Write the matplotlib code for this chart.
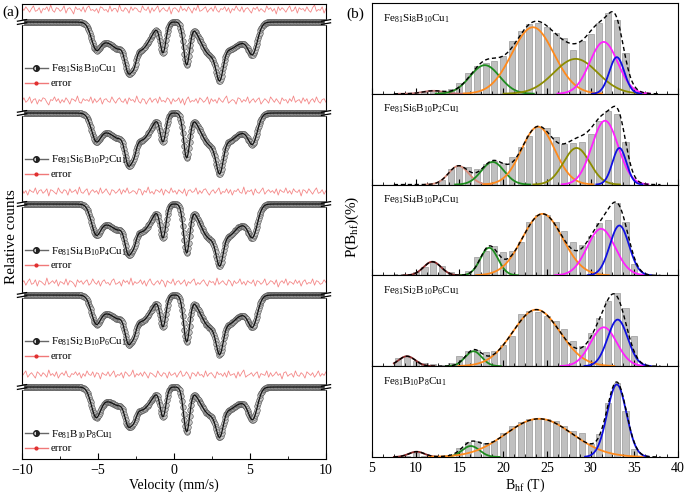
import numpy as np
import matplotlib.pyplot as plt
from matplotlib.lines import Line2D
from matplotlib.legend import Legend
from matplotlib.ticker import MultipleLocator

plt.rcParams['font.family'] = 'Liberation Serif'
plt.rcParams['mathtext.fontset'] = 'custom'
plt.rcParams['mathtext.rm'] = 'Liberation Serif'
plt.rcParams['mathtext.it'] = 'Liberation Serif:italic'
plt.rcParams['mathtext.default'] = 'regular'

# ---------------- data ----------------
samples = [r'Fe$_{81}$Si$_8$B$_{10}$Cu$_1$',
           r'Fe$_{81}$Si$_6$B$_{10}$P$_2$Cu$_1$',
           r'Fe$_{81}$Si$_4$B$_{10}$P$_4$Cu$_1$',
           r'Fe$_{81}$Si$_2$B$_{10}$P$_6$Cu$_1$',
           r'Fe$_{81}$B$_{10}$P$_8$Cu$_1$']

# (a) Mossbauer spectra: absorption lines (velocity, width, depth)
line_pos = [-5.15, -4.35, -3.6, -3.0, -2.62, -2.3, -1.6, -0.72, 0.83, 2.05, 2.65, 3.02, 3.6, 4.35, 5.2]
line_sig = [0.3, 0.6, 0.35, 0.24, 0.16, 0.5, 0.4, 0.19, 0.2, 0.5, 0.45, 0.24, 0.35, 0.6, 0.3]
depth_1 = [20, 19, 16, 36, 14, 26, 8, 30, 42, 20, 20, 36, 15, 20, 25]
depth_2 = [21, 18, 15, 38, 13, 25, 9, 28, 44, 19, 20, 38, 16, 19, 24]
depth_3 = [23, 19, 15, 36, 12, 25, 10, 33, 48, 22, 20, 38, 19, 20, 26]
depth_4 = [22, 17, 14, 35, 12, 24, 9, 31, 46, 20, 19, 37, 17, 19, 25]
depth_5 = [25, 13, 11, 28, 10, 21, 8, 29, 44, 17, 17, 31, 13, 15, 27]
depths = [depth_1, depth_2, depth_3, depth_4, depth_5]
spec_offset = [437, 346, 255, 164, 72]

# residuals (fit - data), arbitrary units
err_1 = [2, -1, 3, 0, -3, 1, 4, -2, -1, 2, -4, 1, 0, 3, -2, 5, -1, -3, 2, 1, -2, 0, 4, -4, 1, 2, -1, -5, 3, 0,
         1, -2, 3, -3, 2, 4, -1, 0, -2, 1, -4, 3, 2, -1, 0, -3, 4, -2, 1, 1, -3, 5, -1, -2, 2, 0, -4, 3, -1, 2,
         1, -2, -3, 4, 0, -1, 3, -4, 2, -2, 1, 4, -3, 0, 2, -1, -2, 3, -5, 1, 2, 0, -3, 4, -1, 1, -2, 3, 0, -4,
         2, -1, 5, -2, -1, 1, 3, -3, 0, 2, -2, 4, -1, -3, 1, 0, 3, -2, 2, -4, 1, -1, 4, 0, -2, 3, -3, 1, 2, -1,
         -4, 2, 0, 3, -2, 1, -1, -3, 4, 0, 2, -2, 1, -5, 3, -1, 2, 0, -3, 1, 4, -2, -1, 3, -4, 2, 0, 1, -2, 3,
         -1, -3, 2, 5, -2, 0, -1, 3, -4, 1]
err_2 = [-1, 3, -2, 0, 4, -3, 1, 2, -4, 1, -1, 3, 2, -2, -5, 1, 0, 4, -1, 2, -3, 1, -2, 3, 0, -4, 2, 1, -1, 5,
         -2, -3, 2, 0, 1, -1, 4, -3, 2, -2, 0, 3, -4, 1, 2, -1, -2, 4, 0, -3, 1, 3, -1, -2, 2, -4, 3, 0, 1, -2,
         5, -1, -3, 2, 1, -4, 0, 3, -2, 1, 2, -3, 4, -1, 0, -2, 3, 1, -4, 2, -1, 0, 3, -3, 2, -5, 1, 4, -2, 0,
         -1, 2, -3, 3, 1, -2, 0, 4, -4, 2, -1, 1, -3, 3, 0, -2, 2, 5, -3, -1, 1, 0, -4, 3, 2, -2, 1, -1, 4, -3,
         0, 2, -2, 1, 3, -4, -1, 2, 0, -3, 4, 1, -2, 2, -1, -4, 3, 0, 1, -3, 2, -1, 5, -2, 0, 1, -3, 3, -1, 2,
         -4, 0, 2, -2, 4, -1, -3, 1, 2, -2]
err_3 = [3, -2, 1, -4, 2, 0, -1, 4, -3, 1, 2, -2, 0, 3, -5, 2, 1, -1, -3, 4, 0, -2, 2, 1, -4, 3, -1, 0, 2, -3,
         5, -1, -2, 1, 3, -4, 0, 2, -1, 1, -3, 4, -2, 0, 3, -1, -4, 2, 1, -2, 0, 3, -3, 2, -1, 4, -2, -1, 1, 0,
         -3, 3, 2, -4, 1, -1, 5, -2, 0, -3, 2, 1, -1, 3, -4, 2, 0, -2, 4, -1, 1, -3, 2, 0, -2, 3, -5, 1, 2, -1,
         0, 4, -3, 1, -2, 2, 3, -1, -4, 0, 2, -2, 1, 4, -3, 0, -1, 3, -2, 2, -4, 1, 0, 3, -1, -2, 5, -3, 1, 0,
         2, -4, 3, -1, -2, 1, 4, -3, 0, 2, -1, 1, -2, 3, -4, 2, 0, -1, 4, -2, 1, -3, 3, 0, -1, 2, -5, 2, 1, -2,
         3, 0, -3, 1, 4, -2, -1, 2, -3, 1]
err_4 = [0, 2, -3, 1, 4, -2, -1, 3, -4, 2, 1, -1, -3, 5, -2, 0, 2, -1, 3, -4, 1, 0, -2, 4, -3, 2, 1, -1, -5, 3,
         0, 2, -2, 1, 3, -3, -1, 4, 0, -2, 2, -4, 1, 3, -1, 0, -3, 2, 4, -2, -1, 1, -4, 3, 0, 2, -2, 5, -3, 1,
         -1, 0, 3, -2, 2, -4, 1, 4, -1, -3, 0, 2, -2, 3, 1, -5, 2, 0, -1, 4, -3, 1, 2, -2, 0, 3, -4, 1, -1, 2,
         4, -3, 0, -2, 1, 3, -1, -4, 2, 0, 1, -3, 5, -2, 0, 2, -1, -3, 3, 1, -4, 2, -1, 0, 4, -2, 1, -3, 2, 0,
         -1, 3, -4, 2, 1, -2, 0, 4, -3, -1, 2, 1, -2, 3, -5, 0, 2, -1, 4, -3, 1, 0, -2, 3, -1, 2, -4, 1, 3, -2,
         0, -1, 4, -3, 2, 1, -2, -1, 3, 0]
err_5 = [-2, 1, 4, -3, 0, 2, -1, -4, 3, 1, -2, 2, 0, -3, 5, -1, 1, -2, 3, -4, 0, 2, -1, 4, -2, -3, 1, 0, 3, -1,
         2, -4, 1, -2, 4, 0, -1, 3, -3, 2, 1, -5, 2, 0, -1, 3, -2, 1, 4, -3, 0, -1, 2, -4, 3, 1, -2, 0, 5, -3,
         1, -1, 2, -2, 3, 0, -4, 2, 1, -1, -3, 4, 0, -2, 2, 1, -4, 3, -1, 0, 2, -3, 1, 4, -2, -1, 3, 0, -5, 2,
         1, -2, 3, -1, 0, -3, 4, -2, 1, 2, -1, -4, 3, 0, 1, -2, 2, -3, 4, -1, 0, 1, -4, 3, -2, 2, 5, -3, -1, 0,
         2, -2, 1, 3, -4, 1, 0, -1, 4, -3, 2, -2, 0, 3, -1, 1, -5, 2, 3, -2, 0, 1, -3, 4, -1, -2, 2, 0, -4, 3,
         1, -1, 2, -3, 0, 4, -2, 1, -1, 3]
errors = [err_1, err_2, err_3, err_4, err_5]

# (b) hyperfine field distributions
bar_start = [11, 13, 10, 8, 9]
bars_1 = [0.2, 0.35, 0.3, 0.53, 1.1, 2.1, 2.77, 3.1, 3.27, 3.77, 5.27, 6.27, 7.0, 7.1, 6.67, 6.1, 5.6, 4.43,
          5.27, 6.0, 7.1, 8.1, 7.43, 4.1]
bars_2 = [0.5, 1.6, 1.9, 1.8, 1.6, 2.1, 2.4, 2.2, 2.8, 3.8, 4.9, 5.8, 5.7, 4.8, 4.1, 4.2, 4.3, 5.1, 6.4, 7.4,
          7.1, 4.3]
bars_3 = [0.3, 0.8, 1.3, 0.9, 0.3, 0.1, 0.4, 1.8, 2.4, 2.9, 2.3, 2.4, 3.3, 5.4, 6.1, 6.1, 5.4, 4.4, 3.3, 3.0,
          3.9, 5.3, 5.6, 7.3, 5.4, 1.1]
bars_4 = [0.8, 1.0, 0.5, 0.3, 0.2, 0.1, 0.3, 1.0, 1.5, 1.6, 1.4, 1.5, 2.1, 3.0, 5.2, 5.5, 5.4, 5.0, 4.5, 3.7,
          2.5, 2.0, 3.3, 4.8, 6.5, 7.3, 5.8, 3.0]
bars_5 = [0.15, 0.45, 0.15, 0.0, 0.0, 0.0, 0.93, 1.5, 1.6, 1.43, 1.6, 2.43, 3.1, 3.5, 3.77, 3.83, 3.83, 3.6,
          3.1, 2.6, 2.43, 1.27, 2.27, 5.43, 7.4, 4.6, 0.77]
bars = [bars_1, bars_2, bars_3, bars_4, bars_5]

# Gaussian components: centre (T), sigma (T), height (%)
comp_c = [[12.0, 17.9, 23.4, 28.3, 31.5, 33.0],
          [14.9, 18.8, 24.0, 28.4, 31.65, 33.3],
          [11.9, 18.4, 24.5, 31.2, 33.3],
          [9.0, 16.6, 23.8, 31.5, 33.1],
          [10.1, 16.3, 24.1, 33.0]]
comp_s = [[1.2, 1.7, 2.4, 2.5, 1.6, 0.85],
          [1.15, 1.3, 1.9, 1.5, 1.5, 0.8],
          [1.0, 1.0, 2.3, 1.6, 1.1],
          [0.95, 0.95, 2.7, 1.5, 1.15],
          [0.9, 1.0, 3.8, 1.1]]
comp_h = [[0.3, 2.87, 6.67, 3.5, 5.2, 3.67],
          [1.87, 2.27, 5.8, 3.67, 6.4, 3.67],
          [1.37, 2.77, 6.17, 4.67, 5.0],
          [1.0, 1.5, 5.67, 3.9, 4.67],
          [0.53, 1.1, 3.83, 7.27]]
comp_col = [['#c07070', '#1e8c1e', '#ff8a1c', '#8c8c00', '#ff20ff', '#1010e0'],
            ['#d98c7a', '#1e8c1e', '#ff8a1c', '#8c8c00', '#ff20ff', '#1010e0'],
            ['#8b2a2a', '#1e8c1e', '#ff8a1c', '#ff20ff', '#1010e0'],
            ['#8b2a2a', '#1e8c1e', '#ff8a1c', '#ff20ff', '#1010e0'],
            ['#8b2a2a', '#1e8c1e', '#ff8a1c', '#1010e0']]


def gauss(x, c, s, h):
    return h * np.exp(-0.5 * ((x - c) / s) ** 2)


fig = plt.figure(figsize=(6.85, 4.98), dpi=100)

# ---------------- (a) ----------------
ax = fig.add_axes([22 / 685, 1 - 459 / 498, 304 / 685, 455 / 498])
v = np.linspace(-10, 10, 400)
err_scale = 0.9
for k in range(5):
    base = spec_offset[k]
    y = np.full_like(v, base, dtype=float)
    for p, s, d in zip(line_pos, line_sig, depths[k]):
        y -= gauss(v, p, s, d)
    ax.plot(v, y, 'o', ms=4, mfc='#cacaca', mec='#5a5a5a', mew=0.45, zorder=2)
    ax.plot(v, y, '-', color='#111111', lw=0.9, zorder=3)
    ve = np.linspace(-10, 10, len(errors[k]))
    ax.plot(ve, base + 12.5 + err_scale * np.array(errors[k]), color='#f48888', lw=0.6)

    # axis-break marks
    for xb in (-10, 10):
        ax.add_patch(plt.Rectangle((xb - 0.08, base - 1.6), 0.16, 3.2, color='white',
                                   clip_on=False, zorder=5))
        for dy in (-1.6, 1.6):
            ax.plot([xb - 0.3, xb + 0.3], [base + dy - 0.8, base + dy + 0.8], color='black',
                    lw=0.9, clip_on=False, zorder=6)

    h_spec = Line2D([], [], color='#666666', lw=1, marker='o', ms=4, mfc='#222222',
                    markerfacecoloralt='white', fillstyle='right', mec='#222222')
    h_err = Line2D([], [], color='#f07878', lw=1, marker='o', ms=2, mfc='#e03030', mec='#e03030')
    leg = Legend(ax, [h_spec, h_err], [samples[k], 'error'], loc='upper left',
                 bbox_to_anchor=(-9.8, base - 41), bbox_transform=ax.transData,
                 frameon=False, fontsize=7.8, handlelength=2.1, handletextpad=0.3,
                 labelspacing=0.3, borderpad=0, borderaxespad=0)
    ax.add_artist(leg)

ax.set_xlim(-10, 10)
ax.set_ylim(0, 455)
ax.set_yticks([])
ax.xaxis.set_major_locator(MultipleLocator(5))
ax.xaxis.set_minor_locator(MultipleLocator(2.5))
ax.tick_params(axis='x', which='both', direction='in', labelsize=10)
ax.tick_params(axis='x', which='major', length=4)
ax.tick_params(axis='x', which='minor', length=2)
ax.set_xlabel('Velocity (mm/s)', fontsize=10, labelpad=1)
fig.text(0.017, 0.525, 'Relative counts', rotation=90, ha='center', va='center', fontsize=11)
fig.text(0.004, 0.975, '(a)', fontsize=11, va='center')

# ---------------- (b) ----------------
bh = 454 / 5
for i in range(5):
    bx = fig.add_axes([372 / 685, 1 - (3 + bh * (i + 1)) / 498, 306 / 685, bh / 498])
    pos = bar_start[i] + np.arange(len(bars[i]))
    bx.bar(pos, bars[i], width=0.7, color='#c0c0c0', edgecolor='#9a9a9a', lw=0.5, zorder=1)
    bgrid = np.linspace(7.5, 38, 400)
    total = np.zeros_like(bgrid)
    for c, s, h, col in zip(comp_c[i], comp_s[i], comp_h[i], comp_col[i]):
        total += gauss(bgrid, c, s, h)
        xs = np.linspace(max(7.5, c - 3.3 * s), min(38, c + 3.3 * s), 200)
        bx.plot(xs, gauss(xs, c, s, h), color=col, lw=1.3, zorder=3)
    bx.plot(bgrid, total, color='black', lw=1.0, ls=(0, (3, 2)), zorder=4)
    bx.text(0.035, 0.83, samples[i], transform=bx.transAxes, fontsize=8, va='center')
    bx.set_xlim(5, 40)
    bx.set_ylim(0, 9.1)
    bx.set_yticks([])
    bx.xaxis.set_major_locator(MultipleLocator(5))
    bx.xaxis.set_minor_locator(MultipleLocator(1.25))
    bx.tick_params(axis='x', which='both', direction='in', labelsize=10)
    bx.tick_params(axis='x', which='major', length=4)
    bx.tick_params(axis='x', which='minor', length=2)
    if i < 4:
        bx.tick_params(axis='x', labelbottom=False)
    else:
        bx.set_xlabel(r'B$_{hf}$ (T)', fontsize=10, labelpad=1)

fig.text(0.514, 0.545, r'P(B$_{hf}$)(%)', rotation=90, ha='center', va='center', fontsize=11)
fig.text(0.505, 0.972, '(b)', fontsize=11, va='center')

fig.savefig('out.png', dpi=100)
